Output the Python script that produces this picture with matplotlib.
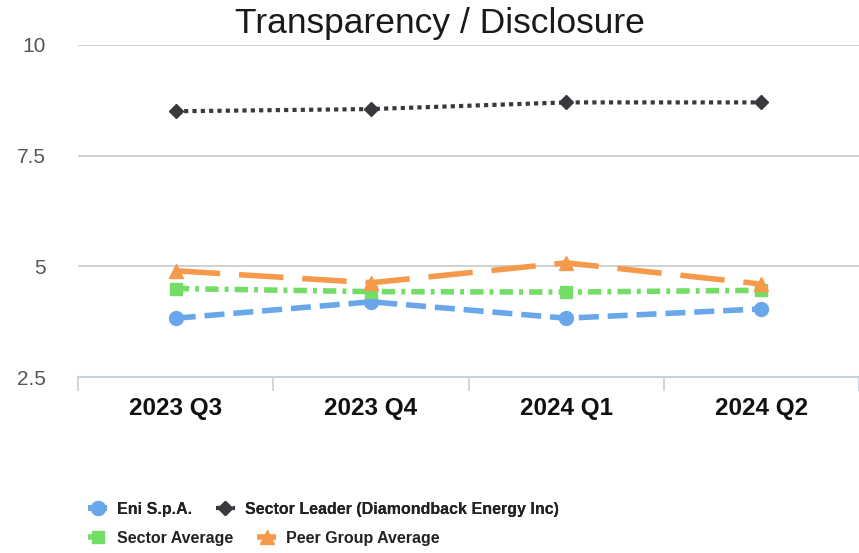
import matplotlib
matplotlib.use("Agg")
import matplotlib.pyplot as plt

# data
quarters = ["2023 Q3", "2023 Q4", "2024 Q1", "2024 Q2"]
eni = [3.83, 4.2, 3.83, 4.04]
sector_leader = [8.5, 8.55, 8.7, 8.7]
sector_avg = [4.5, 4.43, 4.42, 4.46]
peer_avg = [4.9, 4.63, 5.08, 4.6]
yticks = [2.5, 5, 7.5, 10]
ytick_labels = ["2.5", "5", "7.5", "10"]

plt.rcParams['font.family'] = ['Liberation Sans', 'DejaVu Sans']

fig = plt.figure(figsize=(8.59, 5.53), dpi=100)
ax = fig.add_axes([0.091, 0.318, 0.909, 0.601])

x = list(range(len(quarters)))

l_eni, = ax.plot(x, eni, color="#6aa6ea", lw=4, dashes=(3.6, 1.6),
                 marker="o", ms=10, label="Eni S.p.A.")
l_lead, = ax.plot(x, sector_leader, color="#38383d", lw=3, dashes=(1, 1),
                  dash_capstyle="butt", marker="D", ms=7.5,
                  label="Sector Leader (Diamondback Energy Inc)")
l_sec, = ax.plot(x, sector_avg, color="#74dd66", lw=4, dashes=(2.4, 1.1, 0.7, 1.1),
                 marker="s", ms=9, label="Sector Average")
l_peer, = ax.plot(x, peer_avg, color="#f59a4a", lw=4, dashes=(8, 3.4),
                  marker="^", ms=10, label="Peer Group Average")

ax.set_xlim(-0.5, 3.5)
ax.set_ylim(2.5, 10)
ax.set_yticks(yticks)
ax.set_yticklabels(ytick_labels, fontsize=15, color="#555555")
ax.tick_params(axis="y", length=0, pad=23)

ax.set_xticks(x)
ax.set_xticklabels(quarters, fontsize=17.5, fontweight="bold", color="#111111")
ax.set_xticks([-0.5, 0.5, 1.5, 2.5, 3.5], minor=True)
ax.tick_params(axis="x", which="major", length=0, pad=14)
ax.tick_params(axis="x", which="minor", length=10, width=1.2, color="#c8d0dc")

ax.grid(axis="y", color="#c8c8c8", lw=1.2)
for s in ["left", "right", "top"]:
    ax.spines[s].set_visible(False)
ax.spines["bottom"].set_color("#c8d0dc")
ax.spines["bottom"].set_linewidth(1.5)

fig.text(0.512, 0.958, "Transparency / Disclosure", ha="center", va="center",
         fontsize=25.5, color="#1a1a1a")

leg_font = {"size": 11.5, "weight": "bold"}
leg1 = fig.legend(handles=[l_eni, l_lead], loc="center left", bbox_to_anchor=(0.095, 0.079),
                  ncol=2, frameon=False, prop=leg_font, handlelength=1.2,
                  handletextpad=0.6, columnspacing=1.5, borderaxespad=0)
leg2 = fig.legend(handles=[l_sec, l_peer], loc="center left", bbox_to_anchor=(0.095, 0.027),
                  ncol=2, frameon=False, prop=leg_font, handlelength=1.2,
                  handletextpad=0.6, columnspacing=1.5, borderaxespad=0)
fig.add_artist(leg1)
for t in leg1.get_texts() + leg2.get_texts():
    t.set_color("#222222")

fig.savefig("out.png", dpi=100)
